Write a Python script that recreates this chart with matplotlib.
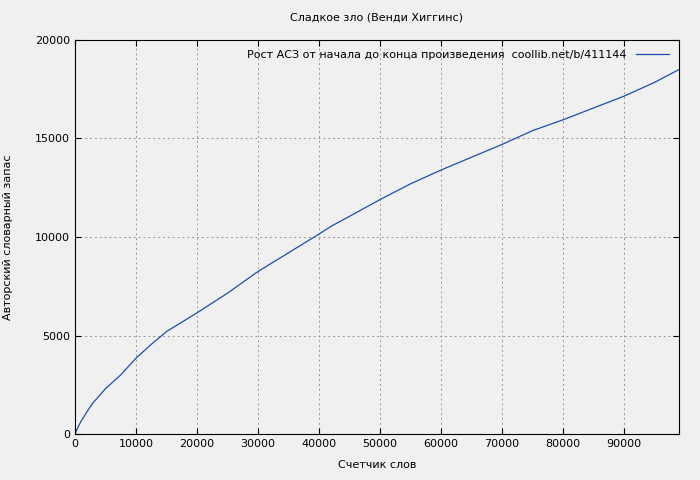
import matplotlib
matplotlib.use('Agg')
import matplotlib.pyplot as plt

words = [0, 500, 1000, 2000, 3000, 5000, 7500, 10000, 12500, 15000, 20000, 25000, 30000, 35000, 40000,
         42000, 45000, 50000, 55000, 60000, 65000, 70000, 75000, 80000, 85000, 90000, 95000, 99000]
vocab = [0, 350, 650, 1150, 1600, 2300, 3000, 3850, 4550, 5200, 6150, 7150, 8250, 9200, 10150,
         10550, 11050, 11900, 12700, 13400, 14050, 14700, 15400, 15950, 16550, 17150, 17850, 18500]

plt.rcParams['font.family'] = 'DejaVu Sans'
plt.rcParams['font.size'] = 8
fig = plt.figure(figsize=(7, 4.8), dpi=100, facecolor='#f0f0f0')
ax = fig.add_axes([75/700, 1-434/480, 604/700, 394/480])
ax.set_facecolor('#f0f0f0')
ax.plot(words, vocab, color='#1a4fb0', lw=0.9,
        label='Рост АСЗ от начала до конца произведения  coollib.net/b/411144')
ax.set_xlim(0, 99000)
ax.set_ylim(0, 20000)
ax.set_xticks(range(0, 99000, 10000))
ax.set_yticks(range(0, 20001, 5000))
ax.grid(True, color='#999999', linestyle=(0, (2, 3)), lw=0.7)
ax.tick_params(direction='in', length=4, top=True, right=True)
for s in ax.spines.values():
    s.set_color('black')
ax.set_title('Сладкое зло (Венди Хиггинс)', fontsize=8, pad=14)
ax.set_xlabel('Счетчик слов', labelpad=8)
ax.set_ylabel('Авторский словарный запас', labelpad=16)
leg = ax.legend(loc='upper right', frameon=False, markerfirst=False, handlelength=3)
fig.savefig('out.png', dpi=100, facecolor=fig.get_facecolor())
